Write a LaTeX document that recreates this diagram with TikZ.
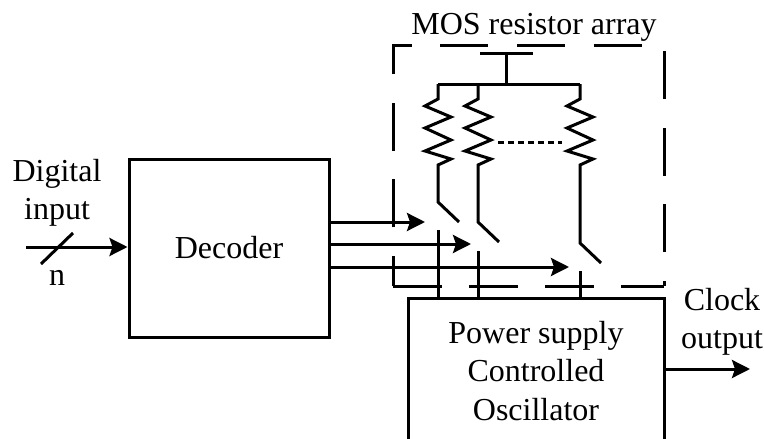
\documentclass[tikz,border=0pt]{standalone}
\usepackage{fontspec}
\setmainfont{Liberation Serif}
\usetikzlibrary{arrows.meta,positioning}

\begin{document}
\begin{tikzpicture}[x=1pt, y=-1pt, >={Stealth[length=18pt,width=18pt,inset=3pt]}, line width=3pt,
	   font=\fontsize{32}{38.5}\selectfont,
	   b/.style={draw, inner sep=0pt, align=center},
	   t/.style={inner sep=0pt, align=center},
	   border/.style={dash pattern=on 48pt off 28.6pt}]
	  \useasboundingbox (0,0) rectangle (764,439);
	  % blocks
	  \node[b, minimum width=200pt, minimum height=178pt] (dec) at (229,248) {Decoder};
	  \node[b, minimum width=256pt, minimum height=146pt] (osc) at (536,371) {Power supply\\Controlled\\Oscillator};
	  % labels
	  \node[t] (dig) at (57,193) {Digital\\input};
	  \node[t] (n) at (57,278) {n};
	  \node[t] (clk) at (722,322) {Clock\\output};
	  \node[t] (mos) at (534,27) {MOS resistor array};
	  % input and output
	  \coordinate (in) at (26,247);
	  \coordinate (s1) at (41,264);
	  \coordinate (s2) at (73,233);
	  \coordinate (out) at (750,369);
	  \draw[->] (in)--(dec.west |- in);
	  \draw (s1)--(s2);
	  \draw[->] (osc.east |- out)--(out);
	  % resistor array
	  \coordinate (tl) at (480,53);
	  \coordinate (tr) at (533,53);
	  \coordinate (tm) at (506,53);
	  \coordinate (rail) at (506,84);
	  \draw (tl)--(tr);
	  \draw (tm)--(rail);
	  \draw (438,84)--(580,84);
	  \foreach \name/\xr/\ys/\yin in {a/438/202/230, b/478/222/251, c/580/243/271}{
	    \coordinate (top\name) at (\xr,84);
	    \coordinate (open\name) at (\xr,\ys);
	    \coordinate (tip\name) at (\xr+21,\ys+20);
	    \coordinate (fix\name) at (\xr,\yin);
	    \draw (top\name)--(\xr,99)--(\xr-13,106)--(\xr+13,117)--(\xr-13,128)--(\xr+13,140)
	      --(\xr-13,151)--(\xr+13,159)--(\xr,165)--(open\name)--(tip\name);
	    \draw (fix\name)--(fix\name |- osc.north);
	  }
	  \coordinate (dl) at (498,142);
	  \coordinate (dr) at (562,142);
	  \draw[dash pattern=on 6pt off 4pt] (dl)--(dr);
	  % decoder outputs
	  \coordinate (o1) at (425,222);
	  \coordinate (o2) at (471,244);
	  \coordinate (o3) at (569,267);
	  \draw[->] (dec.east |- o1)--(o1);
	  \draw[->] (dec.east |- o2)--(o2);
	  \draw[->] (dec.east |- o3)--(o3);
	  % dashed border
	  \coordinate (bl) at (393,286);
	  \coordinate (ul) at (393,45);
	  \coordinate (ur) at (664,45);
	  \coordinate (br) at (664,286);
	  \draw[border, dash phase=18pt] (bl)--(ul)--(ur)--(br);
	  \draw[dash pattern=on 49pt off 27pt] (bl)--(br);
	\end{tikzpicture}
\end{document}
